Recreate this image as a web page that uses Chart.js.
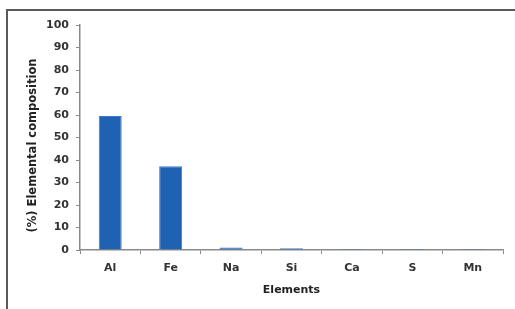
<!DOCTYPE html>
<html>
<head>
<meta charset="utf-8">
<script src="https://cdn.jsdelivr.net/npm/chart.js@4"></script>
<style>
  body { margin: 0; background: #fff; }
  #wrap { width: 515px; height: 309px; position: relative; }
</style>
</head>
<body>
<div id="wrap"><canvas id="myChart" width="515" height="309"></canvas></div>
<script>
// data
const elements = ['Al', 'Fe', 'Na', 'Si', 'Ca', 'S', 'Mn'];
const composition = [59.6, 37.2, 1.1, 0.8, 0.4, 0.4, 0.4];
const yTicks = [0, 10, 20, 30, 40, 50, 60, 70, 80, 90, 100];

// outer frame (top and left edges of the panel)
const framePlugin = {
  id: 'frame',
  beforeDraw(chart) {
    const c = chart.ctx;
    c.save();
    c.fillStyle = '#fff';
    c.fillRect(0, 0, chart.width, chart.height);
    c.strokeStyle = '#5a5a5a';
    c.lineWidth = 2;
    c.beginPath();
    c.moveTo(7, chart.height);
    c.lineTo(7, 10);
    c.lineTo(chart.width, 10);
    c.stroke();
    c.restore();
  }
};

const tickFont = { family: 'DejaVu Sans', size: 11, weight: 'bold' };
const titleFont = { family: 'DejaVu Sans', size: 11.5, weight: 'bold' };

const ctx = document.getElementById('myChart').getContext('2d');
new Chart(ctx, {
  type: 'bar',
  data: {
    labels: elements,
    datasets: [{
      label: 'Elemental composition',
      data: composition,
      backgroundColor: '#1f62b3',
      borderColor: '#3d7ccc',
      borderWidth: 1,
      barPercentage: 0.76,
      categoryPercentage: 0.5
    }]
  },
  options: {
    responsive: false,
    animation: false,
    layout: { padding: { top: 25, right: 12, left: 26, bottom: 12 } },
    plugins: {
      legend: { display: false },
      tooltip: { enabled: false }
    },
    scales: {
      x: {
        grid: { display: true, drawOnChartArea: false, offset: true, tickLength: 4, color: '#8a8a8a' },
        border: { display: true, color: '#8a8a8a', width: 1.5 },
        ticks: { color: '#333', font: tickFont, padding: 8 },
        title: { display: true, text: 'Elements', color: '#222', font: tickFont, padding: { top: 4, bottom: 0 } },
        afterFit(scale) { scale.height = 47; }
      },
      y: {
        min: 0,
        max: 100,
        afterBuildTicks(scale) { scale.ticks = yTicks.map(v => ({ value: v })); },
        grid: { display: true, drawOnChartArea: false, tickLength: 4, color: '#8a8a8a' },
        border: { display: true, color: '#8a8a8a', width: 1.5 },
        ticks: { color: '#333', font: tickFont, padding: 7 },
        // trailing spaces nudge the title a little lower, like the original
        title: { display: true, text: '(%) Elemental composition    ', color: '#222', font: titleFont, padding: { top: 0, bottom: 4 } },
        afterFit(scale) { scale.width = 54; }
      }
    }
  },
  plugins: [framePlugin]
});
</script>
</body>
</html>
